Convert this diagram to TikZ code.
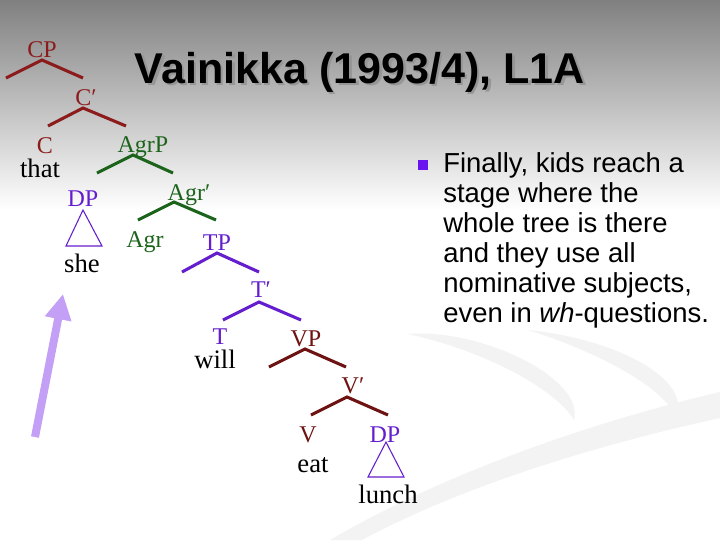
\documentclass[tikz,border=0pt]{standalone}
\usepackage{fontspec}
\setmainfont{Liberation Serif}
\newfontfamily\arialf{Liberation Sans}
\usetikzlibrary{arrows.meta}
\definecolor{cpred}{RGB}{140,28,28}
\definecolor{vpred}{RGB}{110,18,18}
\definecolor{agrgreen}{RGB}{28,100,28}
\definecolor{dpurple}{RGB}{100,30,205}
\definecolor{bulletc}{RGB}{105,20,240}
\definecolor{arrowc}{RGB}{195,160,245}
\definecolor{swooshc}{RGB}{243,243,243}
\tikzset{
  lab/.style={anchor=base, inner sep=0pt, font=\fontsize{18}{18}\selectfont},
  word/.style={anchor=base, inner sep=0pt, text=black, font=\fontsize{20}{20}\selectfont},
  branch/.style={line width=2.3pt},
  tri/.style={line width=0.8pt, dpurple},
  btext/.style={anchor=base west, inner sep=0pt, font=\arialf\fontsize{20.6}{22}\selectfont},
}
\begin{document}
\begin{tikzpicture}[x=0.75pt,y=-0.75pt]
\useasboundingbox (0,0) rectangle (720,540);
% background
\fill[white] (0,0) rectangle (720,540);
\shade[top color={rgb,255:red,128;green,128;blue,128}, bottom color=white] (0,0) rectangle (720,210);
\fill[swooshc] (720,392) .. controls (600,420) and (450,470) .. (330,540) -- (362,540) .. controls (470,482) and (610,442) .. (720,418) -- cycle;
\fill[swooshc] (408,334) .. controls (480,328) and (585,378) .. (574,420) .. controls (555,388) and (482,350) .. cycle;
\fill[swooshc] (528,330) .. controls (612,338) and (692,378) .. (676,416) .. controls (660,384) and (592,350) .. cycle;

% title
\node[anchor=base, inner sep=0pt, text={rgb,255:red,150;green,150;blue,150}, font=\arialf\bfseries\fontsize{32.3}{32}\selectfont] (titleshadow) at (362.5,85.5) {Vainikka (1993/4), L1A};
\node[anchor=base, inner sep=0pt, text=black, font=\arialf\bfseries\fontsize{32.3}{32}\selectfont] (title) at (360,83) {Vainikka (1993/4), L1A};

% CP level
\node[lab, text=cpred] (cp) at (42,57) {CP};
\coordinate (cpa) at (42,60); \coordinate (cpl) at (6,78); \coordinate (cpr) at (83,78);
\draw[branch, cpred] (cpl) -- (cpa) -- (cpr);
\node[lab, text=cpred] (cbar) at (86,105) {C′};
\coordinate (cba) at (83,108); \coordinate (cbl) at (48,126); \coordinate (cbr) at (126,126);
\draw[branch, cpred] (cbl) -- (cba) -- (cbr);
\node[lab, text=cpred] (c) at (45,153) {C};
\node[word] (that) at (40,177) {that};

% AgrP
\node[lab, text=agrgreen] (agrp) at (143,152) {AgrP};
\coordinate (apa) at (133,155); \coordinate (apl) at (97,173); \coordinate (apr) at (173,173);
\draw[branch, agrgreen] (apl) -- (apa) -- (apr);
\node[lab, text=dpurple] (dp) at (83,206) {DP};
\coordinate (dpt) at (83,210); \coordinate (dpbl) at (66,246); \coordinate (dpbr) at (102,246);
\draw[tri] (dpt) -- (dpbl) -- (dpbr) -- cycle;
\node[word] (she) at (82,272) {she};
\node[lab, text=agrgreen] (agrbar) at (189,200) {Agr′};
\coordinate (aba) at (174,202); \coordinate (abl) at (138,220); \coordinate (abr) at (216,220);
\draw[branch, agrgreen] (abl) -- (aba) -- (abr);
\node[lab, text=agrgreen] (agr) at (145,247) {Agr};

% TP
\node[lab, text=dpurple] (tp) at (217,250) {TP};
\coordinate (tpa) at (217,253); \coordinate (tpl) at (182,272); \coordinate (tpr) at (259,272);
\draw[branch, dpurple] (tpl) -- (tpa) -- (tpr);
\node[lab, text=dpurple] (tbar) at (261,297) {T′};
\coordinate (tba) at (259,302); \coordinate (tbl) at (223,320); \coordinate (tbr) at (301,320);
\draw[branch, dpurple] (tbl) -- (tba) -- (tbr);
\node[lab, text=dpurple] (t) at (220,344) {T};
\node[word] (will) at (215,368) {will};

% VP
\node[lab, text=vpred] (vp) at (306,346) {VP};
\coordinate (vpa) at (305,349); \coordinate (vpl) at (269,367); \coordinate (vpr) at (346,367);
\draw[branch, vpred] (vpl) -- (vpa) -- (vpr);
\node[lab, text=vpred] (vbar) at (353,393) {V′};
\coordinate (vba) at (347,397); \coordinate (vbl) at (311,415); \coordinate (vbr) at (388,415);
\draw[branch, vpred] (vbl) -- (vba) -- (vbr);
\node[lab, text=vpred] (v) at (308,442) {V};
\node[word] (eat) at (313,472) {eat};
\node[lab, text=dpurple] (dp2) at (385,442) {DP};
\coordinate (dp2t) at (386,442); \coordinate (dp2bl) at (368,477); \coordinate (dp2br) at (404,477);
\draw[tri] (dp2t) -- (dp2bl) -- (dp2br) -- cycle;
\node[word] (lunch) at (388,503) {lunch};

% arrow
\coordinate (arrtail) at (35,437);
\coordinate (arrtip) at (63,294);
\draw[arrowc, line width=6pt, -{Triangle[length=19pt,width=19pt]}] (arrtail) -- (arrtip);

% bullet
\node[fill=bulletc, minimum size=8pt, inner sep=0pt] (bullet) at (423,165) {};
\node[btext] (l1) at (443,172) {Finally, kids reach a};
\node[btext] (l2) at (443,202) {stage where the};
\node[btext] (l3) at (443,232) {whole tree is there};
\node[btext] (l4) at (443,262) {and they use all};
\node[btext] (l5) at (443,292) {nominative subjects,};
\node[btext] (l6) at (443,322) {even in \textit{wh}-questions.};
\end{tikzpicture}
\end{document}
